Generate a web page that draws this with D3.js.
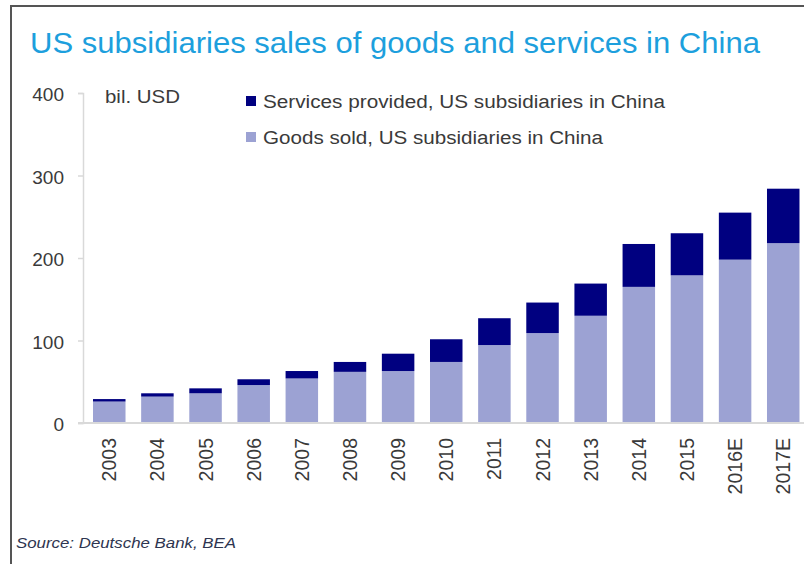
<!DOCTYPE html>
<html>
<head>
<meta charset="utf-8">
<script src="https://cdn.jsdelivr.net/npm/d3@7"></script>
<style>
  html, body { margin: 0; padding: 0; background: #fff; }
  svg { display: block; }
  text { font-family: "Liberation Sans", Arial, sans-serif; }
</style>
</head>
<body>
<svg id="chart" width="804" height="564"></svg>
<script>
// Sales of US subsidiaries in China, bil. USD
const years = ["2003", "2004", "2005", "2006", "2007", "2008", "2009", "2010",
               "2011", "2012", "2013", "2014", "2015", "2016E", "2017E"];
const goodsSold = [26, 32, 36, 46, 54, 62, 63, 74, 94.5, 109, 130, 165, 179, 198, 218];
const servicesProvided = [3, 4, 6, 7, 9, 12, 21, 27.5, 32.5, 37, 39, 52, 51, 57, 66];
const yTicks = [0, 100, 200, 300, 400];
const seriesNames = ["Services provided, US subsidiaries in China",
                     "Goods sold, US subsidiaries in China"];

const colors = { goods: "#9ca2d3", services: "#000080" };

const svg = d3.select("#chart");

// panel frame (left and top rules)
svg.append("path")
  .attr("d", "M11,564 L11,6 L804,6")
  .attr("fill", "none")
  .attr("stroke", "#555")
  .attr("stroke-width", 2);

// title
svg.append("text")
  .attr("x", 30).attr("y", 53)
  .attr("font-size", 29)
  .attr("fill", "#1d9fdd")
  .attr("textLength", 730)
  .attr("lengthAdjust", "spacingAndGlyphs")
  .text("US subsidiaries sales of goods and services in China");

const x = d3.scaleBand()
  .domain(years)
  .range([83, 809.5])
  .paddingInner(0.325)
  .paddingOuter(0.208);

const y = d3.scaleLinear().domain([0, 400]).range([423, 93]);

const rows = years.map((yr, i) => ({ year: yr, goods: goodsSold[i], services: servicesProvided[i] }));
const stacked = d3.stack().keys(["goods", "services"])(rows);

// bars
svg.append("g").selectAll("g")
  .data(stacked)
  .join("g")
  .attr("fill", d => colors[d.key])
  .selectAll("rect")
  .data(d => d)
  .join("rect")
  .attr("x", d => x(d.data.year))
  .attr("width", x.bandwidth())
  .attr("y", d => y(d[1]))
  .attr("height", d => y(d[0]) - y(d[1]));

// x axis line
svg.append("line")
  .attr("x1", 78).attr("x2", 804)
  .attr("y1", y(0)).attr("y2", y(0))
  .attr("stroke", "#d9d9d9").attr("stroke-width", 2);

// y axis
const yAxis = svg.append("g")
  .attr("transform", "translate(83,0)")
  .call(d3.axisLeft(y).tickValues(yTicks).tickSize(5).tickPadding(14).tickFormat(d3.format("d")));
yAxis.select(".domain").attr("stroke", "#d9d9d9").attr("stroke-width", 1.5);
yAxis.selectAll(".tick line").attr("stroke", "#d9d9d9").attr("stroke-width", 1.5);
yAxis.selectAll(".tick text")
  .attr("font-family", "'Liberation Sans', Arial, sans-serif")
  .attr("font-size", 19)
  .attr("fill", "#3a3a3a")
  .attr("dy", "0.42em");

// x category labels, rotated
svg.append("g").selectAll("text")
  .data(years)
  .join("text")
  .attr("transform", d => `translate(${x(d) + x.bandwidth() / 2},438) rotate(-90)`)
  .attr("text-anchor", "end")
  .attr("dy", "0.36em")
  .attr("font-size", 19.5)
  .attr("fill", "#3a3a3a")
  .text(d => d);

// unit label
svg.append("text")
  .attr("x", 105).attr("y", 102.5)
  .attr("font-size", 18)
  .attr("fill", "#3a3a3a")
  .attr("textLength", 75)
  .attr("lengthAdjust", "spacingAndGlyphs")
  .text("bil. USD");

// legend
const legend = [
  { name: seriesNames[0], color: colors.services, y: 96, w: 402 },
  { name: seriesNames[1], color: colors.goods, y: 132, w: 340 }
];
const lg = svg.append("g").selectAll("g").data(legend).join("g");
lg.append("rect")
  .attr("x", 246).attr("y", d => d.y)
  .attr("width", 10).attr("height", 10)
  .attr("fill", d => d.color);
lg.append("text")
  .attr("x", 263).attr("y", d => d.y + 12)
  .attr("font-size", 18)
  .attr("fill", "#3a3a3a")
  .attr("textLength", d => d.w)
  .attr("lengthAdjust", "spacingAndGlyphs")
  .text(d => d.name);

// source note
svg.append("text")
  .attr("x", 16).attr("y", 548)
  .attr("font-size", 15)
  .attr("font-style", "italic")
  .attr("fill", "#2e3550")
  .attr("textLength", 220)
  .attr("lengthAdjust", "spacingAndGlyphs")
  .text("Source: Deutsche Bank, BEA");
</script>
</body>
</html>
